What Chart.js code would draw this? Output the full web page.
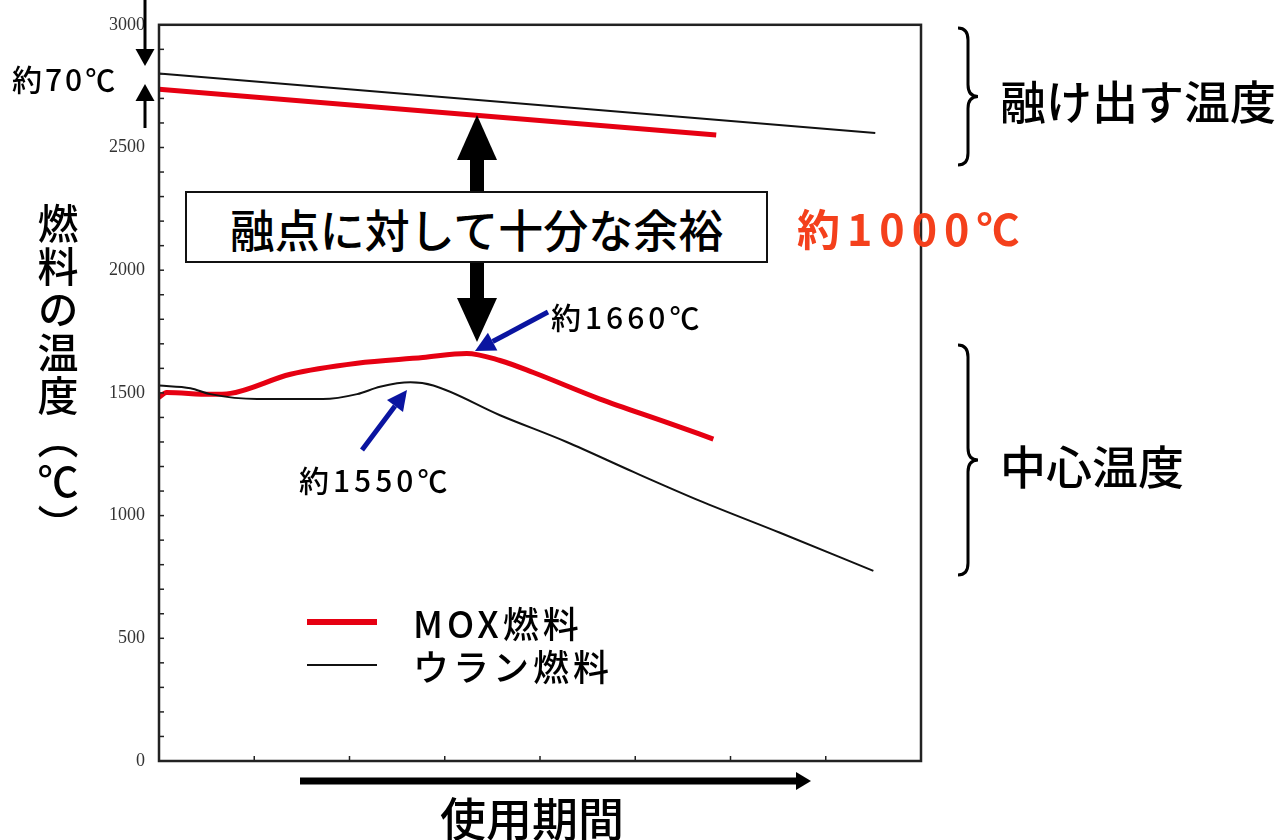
<!DOCTYPE html>
<html lang="ja">
<head>
  <meta charset="UTF-8" />
  <title>MOX燃料とウラン燃料の温度</title>
  <script src="https://cdn.jsdelivr.net/npm/chart.js"></script>
  <style>
    html, body { margin: 0; padding: 0; background: #fff; }
    body { width: 1283px; height: 840px; position: relative; overflow: hidden;
           font-family: "Noto Sans CJK JP", "Noto Sans", sans-serif; color: #000; }
    #chart { position: absolute; left: 0; top: 0; }
    #deco { position: absolute; left: 0; top: 0; }
    .t { position: absolute; line-height: 1; white-space: nowrap; font-weight: 500; }
    .box { position: absolute; left: 185px; top: 191px; width: 579px; height: 68px;
           border: 2px solid #111; background: #fff; text-align: center;
           font-size: 45px; line-height: 72px; font-weight: 500; }
    .ytitle { position: absolute; left: 37px; top: 203px; writing-mode: vertical-rl;
              font-size: 41px; line-height: 1; letter-spacing: 2px; font-weight: 500; }
    .leg { position: absolute; left: 307px; display: flex; align-items: center; }
    .leg .sw { width: 70px; margin-right: 36px; }
    .leg span { font-size: 36px; line-height: 1; letter-spacing: 4px; font-weight: 500; }
  </style>
</head>
<body>
  <canvas id="chart" width="1283" height="840"></canvas>
  <svg id="deco" width="1283" height="840"></svg>

  <div class="t" style="left:12px; top:63px; font-size:30px; letter-spacing:3px;">約70℃</div>
  <div class="box">融点に対して十分な余裕</div>
  <div class="t" style="left:797px; top:206px; font-size:43px; letter-spacing:7px; color:#f4401c; font-weight:700;">約1000℃</div>
  <div class="t" style="left:551px; top:301px; font-size:30px; letter-spacing:4px;">約1660℃</div>
  <div class="t" style="left:299px; top:464px; font-size:30px; letter-spacing:4px;">約1550℃</div>
  <div class="t" style="left:1000px; top:76px; font-size:46px;">融け出す温度</div>
  <div class="t" style="left:1000px; top:441px; font-size:46px;">中心温度</div>
  <div class="t" style="left:440px; top:793px; font-size:46px;">使用期間</div>
  <div class="ytitle">燃料の温度（℃）</div>
  <div id="legend"></div>

  <script>
    // 横軸は使用期間（目盛りのみ、単位なし）
    const xTickMax = 8;
    const yTicks = [0, 500, 1000, 1500, 2000, 2500, 3000];
    const seriesNames = ['MOX燃料', 'ウラン燃料'];
    const seriesColors = ['#e60012', '#111111'];

    // 融け出す温度（融点）
    const moxMeltX = [0, 5.85];
    const moxMeltY = [2737, 2551];
    const uMeltX = [0, 7.52];
    const uMeltY = [2802, 2559];

    // 中心温度
    const moxCoreX = [0, 0.08, 0.54, 0.75, 1.38, 2.08, 2.77, 3.23, 3.58, 3.93, 4.63, 5.33, 5.82];
    const moxCoreY = [1482, 1502, 1494, 1498, 1576, 1621, 1644, 1661, 1632, 1583, 1475, 1380, 1312];
    const uCoreX = [0, 0.33, 0.54, 1.03, 1.72, 2.08, 2.32, 2.64, 2.88, 3.58, 4.28, 4.98, 5.68, 6.52, 7.50];
    const uCoreY = [1530, 1519, 1495, 1475, 1475, 1495, 1525, 1543, 1530, 1409, 1300, 1178, 1060, 930, 775];

    function pts(xs, ys) {
      return xs.map((x, i) => ({ x: x, y: ys[i] }));
    }

    function lineSet(label, xs, ys, color, width) {
      return {
        label: label,
        data: pts(xs, ys),
        borderColor: color,
        borderWidth: width,
        pointRadius: 0,
        fill: false,
        cubicInterpolationMode: 'monotone'
      };
    }

    // 枠線と内向きの小目盛り
    const framePlugin = {
      id: 'frame',
      afterDraw(chart) {
        const ctx = chart.ctx;
        const a = chart.chartArea;
        const xs = chart.scales.x;
        const ys = chart.scales.y;
        ctx.save();
        ctx.strokeStyle = '#222';
        ctx.lineWidth = 1.5;
        for (let v = 100; v < 3000; v += 100) {
          const py = ys.getPixelForValue(v);
          ctx.beginPath();
          ctx.moveTo(a.left, py);
          ctx.lineTo(a.left + 5, py);
          ctx.stroke();
        }
        for (let v = 1; v < xTickMax; v++) {
          const px = xs.getPixelForValue(v);
          ctx.beginPath();
          ctx.moveTo(px, a.bottom);
          ctx.lineTo(px, a.bottom - 5);
          ctx.stroke();
        }
        ctx.lineWidth = 2.5;
        ctx.strokeRect(a.left, a.top, a.right - a.left, a.bottom - a.top);
        ctx.restore();
      }
    };

    new Chart(document.getElementById('chart'), {
      type: 'line',
      data: {
        datasets: [
          lineSet(seriesNames[1], uMeltX, uMeltY, seriesColors[1], 2),
          lineSet(seriesNames[1], uCoreX, uCoreY, seriesColors[1], 2),
          lineSet(seriesNames[0], moxMeltX, moxMeltY, seriesColors[0], 5),
          lineSet(seriesNames[0], moxCoreX, moxCoreY, seriesColors[0], 5)
        ]
      },
      options: {
        responsive: false,
        animation: false,
        layout: { padding: { left: 0, top: 21, right: 362, bottom: 79 } },
        plugins: { legend: { display: false }, tooltip: { enabled: false } },
        scales: {
          x: {
            type: 'linear', min: 0, max: xTickMax,
            ticks: { display: false },
            grid: { display: false, drawTicks: false },
            border: { display: false },
            afterFit(s) { s.height = 0; }
          },
          y: {
            min: 0, max: 3000,
            afterBuildTicks(s) { s.ticks = yTicks.map(v => ({ value: v })); },
            ticks: {
              padding: 14,
              color: '#333',
              font: { family: 'Liberation Serif', size: 18 },
              callback: v => String(v)
            },
            grid: { display: false, drawTicks: false },
            border: { display: false },
            afterFit(s) { s.width = 159; }
          }
        }
      },
      plugins: [framePlugin]
    });

    // 凡例
    const legend = document.getElementById('legend');
    const legendY = [622, 665];
    const legendW = [6, 2.5];
    seriesNames.forEach((name, i) => {
      const row = document.createElement('div');
      row.className = 'leg';
      row.style.top = (legendY[i] - 20) + 'px';
      row.style.height = '40px';
      row.innerHTML = '<div class="sw" style="height:' + legendW[i] + 'px;background:' +
        seriesColors[i] + '"></div><span>' + name + '</span>';
      legend.appendChild(row);
    });

    // 矢印と括弧
    const svg = document.getElementById('deco');
    function add(tag, attrs) {
      const el = document.createElementNS('http://www.w3.org/2000/svg', tag);
      for (const k in attrs) el.setAttribute(k, attrs[k]);
      svg.appendChild(el);
    }
    function arrow(x1, y1, x2, y2, color, w, headLen, headW) {
      const dx = x2 - x1, dy = y2 - y1;
      const len = Math.hypot(dx, dy);
      const ux = dx / len, uy = dy / len;
      const bx = x2 - ux * headLen, by = y2 - uy * headLen;
      add('line', { x1: x1, y1: y1, x2: bx, y2: by, stroke: color, 'stroke-width': w });
      add('polygon', {
        points: [x2, y2, bx - uy * headW, by + ux * headW, bx + uy * headW, by - ux * headW].join(' '),
        fill: color
      });
    }
    function brace(x, y0, y1) {
      const m = (y0 + y1) / 2;
      const d = 'M ' + x + ' ' + y0 + ' Q ' + (x + 10) + ' ' + y0 + ' ' + (x + 10) + ' ' + (y0 + 12) +
        ' L ' + (x + 10) + ' ' + (m - 12) + ' Q ' + (x + 10) + ' ' + m + ' ' + (x + 20) + ' ' + m +
        ' Q ' + (x + 10) + ' ' + m + ' ' + (x + 10) + ' ' + (m + 12) +
        ' L ' + (x + 10) + ' ' + (y1 - 12) + ' Q ' + (x + 10) + ' ' + y1 + ' ' + x + ' ' + y1;
      add('path', { d: d, fill: 'none', stroke: '#000', 'stroke-width': 3 });
    }

    arrow(145, 0, 145, 66, '#000', 3, 17, 9.5);
    arrow(145, 128, 145, 84, '#000', 3, 17, 9.5);
    arrow(477, 192, 477, 115, '#000', 14, 45, 20);
    arrow(477, 263, 477, 342, '#000', 14, 44, 20);
    arrow(548, 312, 475, 351, '#0a14a0', 5, 20, 10);
    arrow(362, 450, 407, 390, '#0a14a0', 5, 20, 10);
    arrow(300, 781, 811, 781, '#000', 7, 15, 9);
    brace(958, 28, 165);
    brace(958, 345, 575);
  </script>
</body>
</html>
